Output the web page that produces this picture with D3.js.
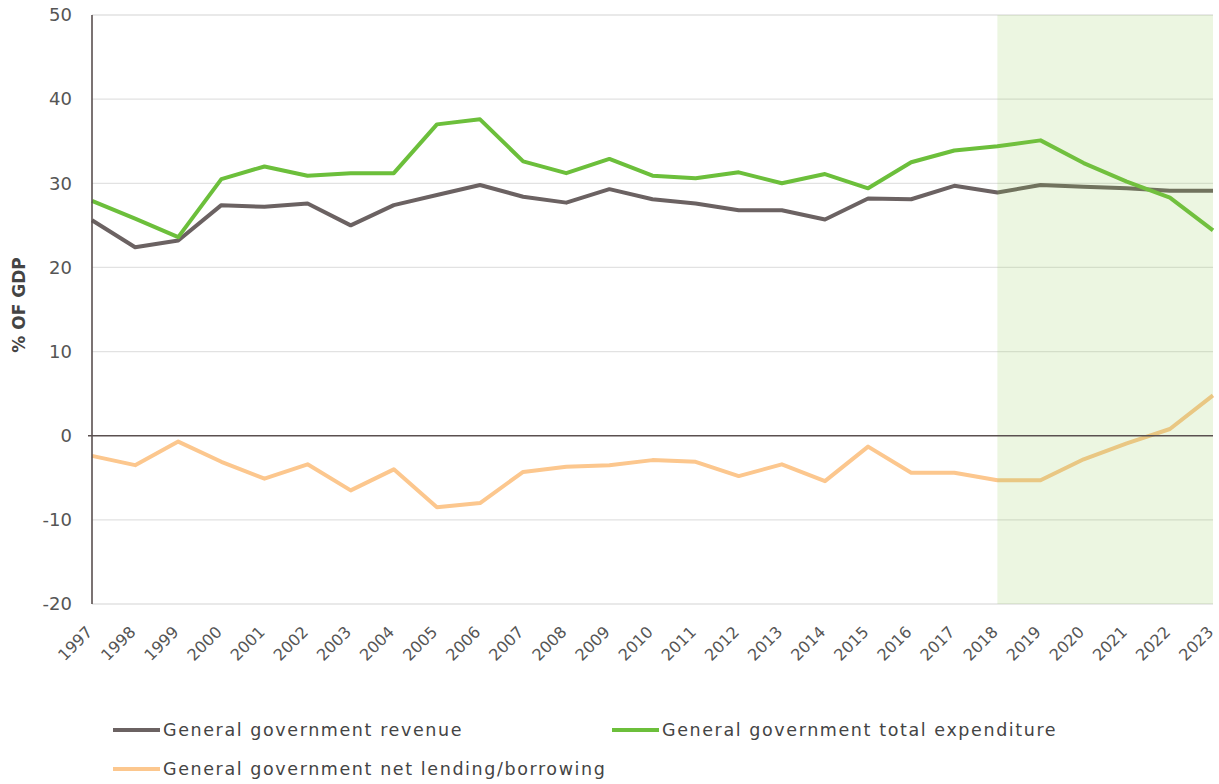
<!DOCTYPE html>
<html>
<head>
<meta charset="utf-8">
<script src="https://cdn.jsdelivr.net/npm/d3@7"></script>
<style>
  html, body { margin: 0; padding: 0; background: #fff; }
  svg { display: block; font-family: "DejaVu Sans", sans-serif; }
</style>
</head>
<body>
<svg id="chart" width="1219" height="784"></svg>
<script>
const years = d3.range(1997, 2024);
const revenue = [25.6, 22.4, 23.2, 27.4, 27.2, 27.6, 25.0, 27.4, 28.6, 29.8, 28.4, 27.7, 29.3, 28.1, 27.6, 26.8, 26.8, 25.7, 28.2, 28.1, 29.7, 28.9, 29.8, 29.6, 29.4, 29.1, 29.1];
const expenditure = [27.9, 25.8, 23.6, 30.5, 32.0, 30.9, 31.2, 31.2, 37.0, 37.6, 32.6, 31.2, 32.9, 30.9, 30.6, 31.3, 30.0, 31.1, 29.4, 32.5, 33.9, 34.4, 35.1, 32.4, 30.2, 28.3, 24.4];
const netLending = [-2.4, -3.5, -0.7, -3.1, -5.1, -3.4, -6.5, -4.0, -8.5, -8.0, -4.3, -3.7, -3.5, -2.9, -3.1, -4.8, -3.4, -5.4, -1.3, -4.4, -4.4, -5.3, -5.3, -2.8, -0.9, 0.8, 4.8];
const yTicks = [-20, -10, 0, 10, 20, 30, 40, 50];
const forecastStart = 2018;
const axisTitle = "% OF GDP";

const series = [
  { name: "General government revenue", values: revenue, color: "#6b6262" },
  { name: "General government total expenditure", values: expenditure, color: "#6cbf3b" },
  { name: "General government net lending/borrowing", values: netLending, color: "#fcc78e" }
];

const svg = d3.select("#chart");
const m = { left: 92, right: 1213, top: 15, bottom: 604 };

const x = d3.scaleLinear().domain([1997, 2023]).range([m.left, m.right]);
const y = d3.scaleLinear().domain([-20, 50]).range([m.bottom, m.top]);

// horizontal gridlines
svg.append("g")
  .selectAll("line")
  .data(yTicks.filter(d => d !== 0))
  .join("line")
  .attr("x1", m.left).attr("x2", m.right)
  .attr("y1", d => y(d)).attr("y2", d => y(d))
  .attr("stroke", "#e2e2e2").attr("stroke-width", 1.3);

// y tick labels (plain hyphen for negatives)
const yAxis = svg.append("g")
  .attr("transform", `translate(${m.left},0)`)
  .call(d3.axisLeft(y).tickValues(yTicks).tickFormat(d => String(d)).tickSize(0).tickPadding(20));
yAxis.select(".domain").remove();
yAxis.selectAll("text")
  .attr("font-size", 18).attr("fill", "#555").attr("font-family", "DejaVu Sans, sans-serif");

// axis title
svg.append("text")
  .attr("transform", `translate(25,305) rotate(-90)`)
  .attr("text-anchor", "middle")
  .attr("font-size", 17).attr("font-weight", 700).attr("fill", "#444")
  .text(axisTitle);

// series lines
const line = d3.line().x((d, i) => x(years[i])).y(d => y(d));
svg.append("g")
  .selectAll("path")
  .data(series)
  .join("path")
  .attr("d", s => line(s.values))
  .attr("fill", "none")
  .attr("stroke", s => s.color)
  .attr("stroke-width", 4)
  .attr("stroke-linejoin", "round");

// forecast shading, drawn over the lines so they tint slightly
svg.append("rect")
  .attr("x", x(forecastStart)).attr("y", y(50))
  .attr("width", x(2023) - x(forecastStart)).attr("height", y(-20) - y(50))
  .attr("fill", "#8cc850").attr("opacity", 0.17);

// zero line and left axis line
svg.append("line")
  .attr("x1", m.left - 4).attr("x2", m.right)
  .attr("y1", y(0)).attr("y2", y(0))
  .attr("stroke", "#5a5050").attr("stroke-width", 1.6);
svg.append("line")
  .attr("x1", m.left).attr("x2", m.left)
  .attr("y1", y(50)).attr("y2", y(-20))
  .attr("stroke", "#5a5050").attr("stroke-width", 1.6);

// x tick labels, rotated
const xAxis = svg.append("g")
  .attr("transform", `translate(0,${m.bottom})`)
  .call(d3.axisBottom(x).tickValues(years).tickFormat(d3.format("d")).tickSize(0).tickPadding(0));
xAxis.select(".domain").remove();
xAxis.selectAll("text")
  .attr("font-size", 16).attr("fill", "#555").attr("font-family", "DejaVu Sans, sans-serif")
  .attr("text-anchor", "end")
  .attr("y", 0)
  .attr("dy", 0)
  .attr("transform", "translate(1,29) rotate(-45)");

// legend
const legendItems = [
  { s: series[0], lx: 113, ly: 730 },
  { s: series[1], lx: 612, ly: 730 },
  { s: series[2], lx: 113, ly: 769 }
];
const lg = svg.append("g").selectAll("g").data(legendItems).join("g")
  .attr("transform", d => `translate(${d.lx},${d.ly})`);
lg.append("line")
  .attr("x1", 0).attr("x2", 47).attr("y1", 0).attr("y2", 0)
  .attr("stroke", d => d.s.color).attr("stroke-width", 4);
lg.append("text")
  .attr("x", 50).attr("y", 0).attr("dy", "0.35em")
  .attr("font-size", 17.5).attr("letter-spacing", 1.6).attr("fill", "#444")
  .text(d => d.s.name);
</script>
</body>
</html>
